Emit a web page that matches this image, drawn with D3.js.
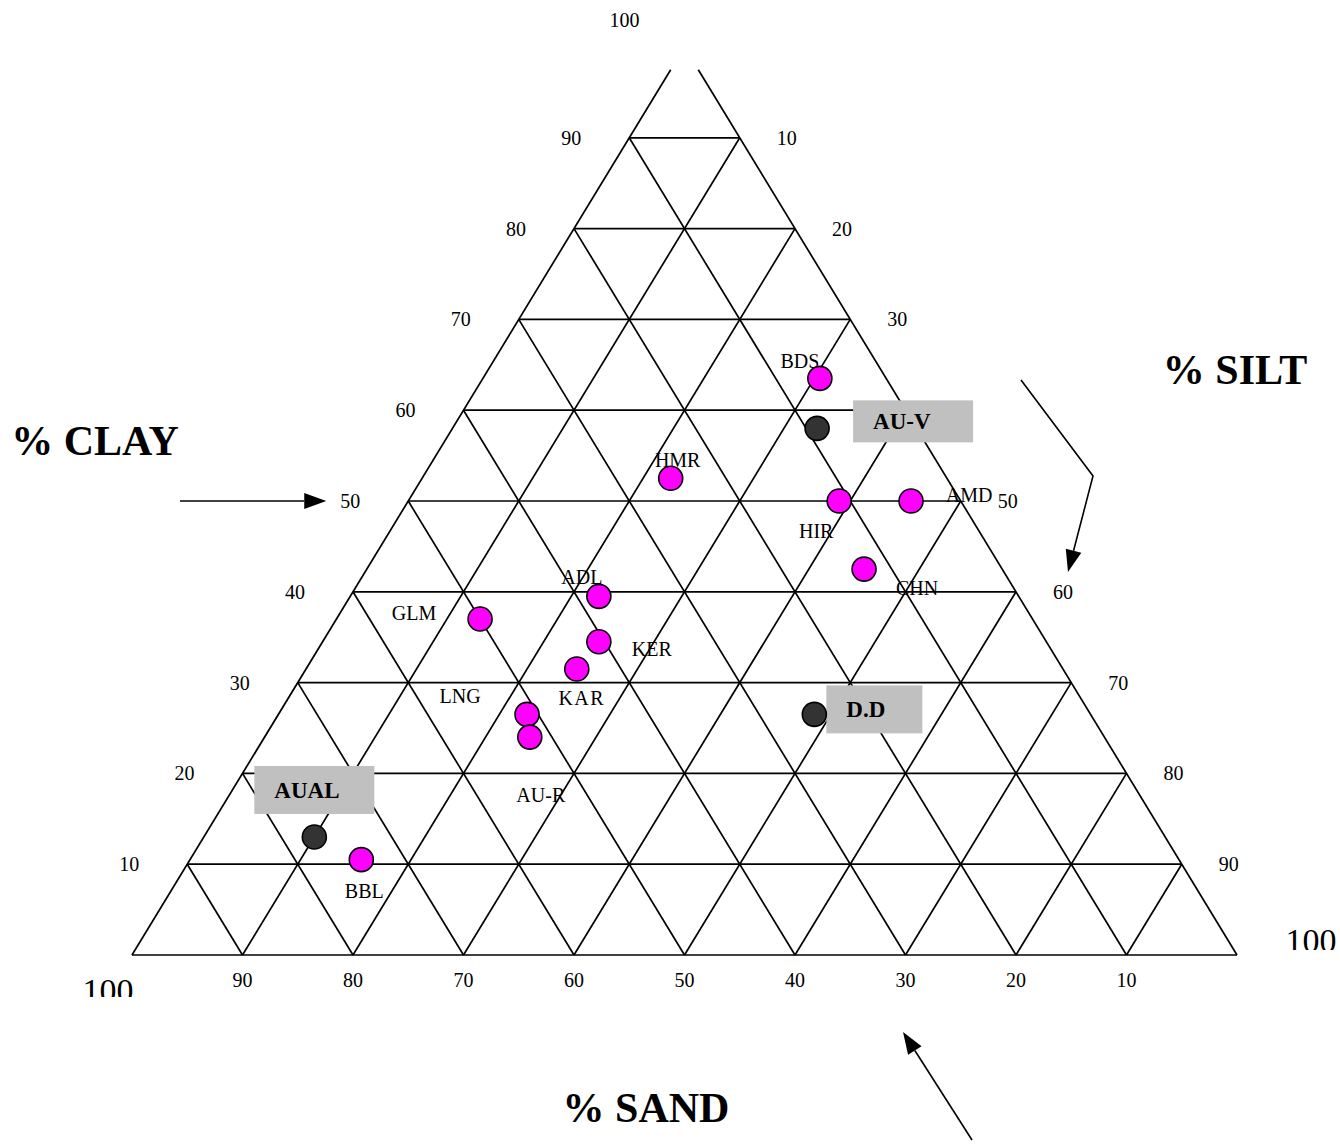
<!DOCTYPE html>
<html><head><meta charset="utf-8">
<script src="https://cdn.jsdelivr.net/npm/d3@7"></script>
<style>body{margin:0;background:#fff} svg{display:block}</style>
</head><body>
<svg id="chart" width="1340" height="1146"></svg>
<script>
// ---------- data ----------
const sampleNames = ["BDS","AU-V","HMR","HIR","AMD","CHN","ADL","GLM","KER","KAR","LNG","AU-R","D.D","AUAL","BBL"];
const clayPct  = [63.5, 58, 52.5, 50, 50,   42.5, 39.5, 37, 34.5, 31.5, 26.5, 24, 26.5, 13, 10.5];
const siltPct  = [30.5, 33, 22.5, 39, 45.5, 45,   22.5, 13, 25,   24.5, 22.5, 24, 48.5, 10, 15.5];
const sandPct  = [6,    9,  25,   11, 4.5,  12.5, 38,   50, 40.5, 44,   51,   52, 25,   77, 74];
const sampleGroup = ["sample","reference","sample","sample","sample","sample","sample","sample","sample","sample","sample","sample","reference","reference","sample"];
const gridLevels = [0,10,20,30,40,50,60,70,80,90];
const tickValues = [10,20,30,40,50,60,70,80,90];
const axisTitles = ["% CLAY","% SILT","% SAND"];

// ---------- layout ----------
const svg = d3.select("#chart");
const xs = d3.scaleLinear().domain([0,100]).range([132,1237]);   // silt + clay/2
const ys = d3.scaleLinear().domain([0,100]).range([955,47]);     // clay
const P = (clay, silt) => [xs(silt + clay/2), ys(clay)];
const topCap = 97.5;
const font = "'Liberation Serif','Times New Roman',serif";

// label offsets (layout only)
const labelOffset = {
  "BDS":[-20,-17],"HMR":[7,-18],"HIR":[-23,30],"AMD":[58,-6],"CHN":[53,19],
  "ADL":[-17,-19],"GLM":[-66,-6],"KER":[53,7],"KAR":[5,29],"LNG":[-67,-18],
  "AU-R":[11,58],"BBL":[3,31]
};
const boxOffset = { "AU-V":[36,-28,120,42], "D.D":[12,-29,96,48], "AUAL":[-60,-71,120,48] };

const colorOf = g => g === "reference" ? "#333333" : "#ff00ff";

// ---------- grid ----------
const grid = svg.append("g").attr("stroke","#000").attr("stroke-width",1.7).attr("fill","none");
const line = d3.line();
gridLevels.forEach(k => {
  grid.append("path").attr("d", line([P(k,0), P(k,100-k)]));
});
gridLevels.forEach(s => {
  const top = Math.min(100 - s, topCap);
  grid.append("path").attr("d", line([P(0,s), P(top,s)]));
});
gridLevels.forEach(d => {
  const top = Math.min(100 - d, topCap);
  grid.append("path").attr("d", line([P(0,100-d), P(top,100-d-top)]));
});

// ---------- tick labels ----------
const tl = svg.append("g").attr("font-family",font).attr("font-size",20).attr("fill","#000").attr("text-anchor","middle");
tickValues.forEach(c => {
  const [x,y] = P(c,0);
  tl.append("text").attr("x", x-58).attr("y", y+7).text(c);
});
{ const [x,y] = P(100,0); tl.append("text").attr("x", x-60).attr("y", y-20).text("100"); }
tickValues.forEach(s => {
  const [x,y] = P(100-s, s);
  tl.append("text").attr("x", x+47).attr("y", y+7).text(s);
});
tickValues.forEach(d => {
  const [x] = P(0, 100-d);
  tl.append("text").attr("x", x).attr("y", 987).text(d);
});
const defs = svg.append("defs");
defs.append("clipPath").attr("id","clipSand").append("rect").attr("x",60).attr("y",960).attr("width",120).attr("height",37);
defs.append("clipPath").attr("id","clipSilt").append("rect").attr("x",1260).attr("y",910).attr("width",90).attr("height",40);
svg.append("text").attr("clip-path","url(#clipSand)").attr("x", xs(0)-24).attr("y",1002)
  .attr("font-family",font).attr("font-size",34).attr("text-anchor","middle").text("100");
svg.append("text").attr("clip-path","url(#clipSilt)").attr("x", xs(100)+74).attr("y",952)
  .attr("font-family",font).attr("font-size",34).attr("text-anchor","middle").text("100");

// ---------- axis titles & arrows ----------
const tt = svg.append("g").attr("font-family",font).attr("font-size",42).attr("font-weight","bold").attr("text-anchor","middle");
tt.append("text").attr("x",95).attr("y",455).text(axisTitles[0]);
tt.append("text").attr("x",1235).attr("y",384).text(axisTitles[1]);
tt.append("text").attr("x",646).attr("y",1122).text(axisTitles[2]);

function arrow(points) {
  const n = points.length;
  const [x1,y1] = points[n-2], [x2,y2] = points[n-1];
  const ang = Math.atan2(y2-y1, x2-x1);
  const L = 22, W = 8;
  const bx = x2 - L*Math.cos(ang), by = y2 - L*Math.sin(ang);
  const pts = points.slice(0, n-1).concat([[bx,by]]);
  svg.append("path").attr("d", d3.line()(pts)).attr("stroke","#000").attr("stroke-width",1.6).attr("fill","none");
  const px = -Math.sin(ang)*W, py = Math.cos(ang)*W;
  svg.append("path").attr("d", d3.line()([[x2,y2],[bx+px,by+py],[bx-px,by-py]]) + "Z").attr("fill","#000");
}
const [cx50, cy50] = P(50,0);
arrow([[180, cy50], [cx50-82, cy50]]);
arrow([[1021,380],[1093,476],[1068,572]]);
arrow([[972,1140],[903,1032]]);

// ---------- boxes ----------
const boxes = svg.append("g");
sampleNames.forEach((n,i) => {
  if (!boxOffset[n]) return;
  const [x,y] = P(clayPct[i], siltPct[i]);
  const [dx,dy,w,h] = boxOffset[n];
  boxes.append("rect").attr("x",x+dx).attr("y",y+dy).attr("width",w).attr("height",h).attr("fill","#c0c0c0");
  boxes.append("text").attr("x",x+dx+20).attr("y",y+dy+h/2+8)
    .attr("font-family",font).attr("font-size",23).attr("font-weight","bold").attr("fill","#000").text(n);
});

// ---------- points ----------
svg.append("g").selectAll("circle").data(sampleNames).join("circle")
  .attr("cx",(d,i)=>P(clayPct[i],siltPct[i])[0])
  .attr("cy",(d,i)=>P(clayPct[i],siltPct[i])[1])
  .attr("r",12).attr("fill",(d,i)=>colorOf(sampleGroup[i]))
  .attr("stroke","#000").attr("stroke-width",1.6);

// ---------- point labels ----------
svg.append("g").attr("font-family",font).attr("font-size",20).attr("text-anchor","middle")
  .selectAll("text").data(sampleNames.filter(n=>labelOffset[n])).join("text")
  .attr("x", n => { const i = sampleNames.indexOf(n); return P(clayPct[i],siltPct[i])[0] + labelOffset[n][0]; })
  .attr("y", n => { const i = sampleNames.indexOf(n); return P(clayPct[i],siltPct[i])[1] + labelOffset[n][1] + 7; })
  .attr("letter-spacing", n => n === "KAR" ? 1.5 : 0)
  .text(n => n);
</script>
</body></html>
